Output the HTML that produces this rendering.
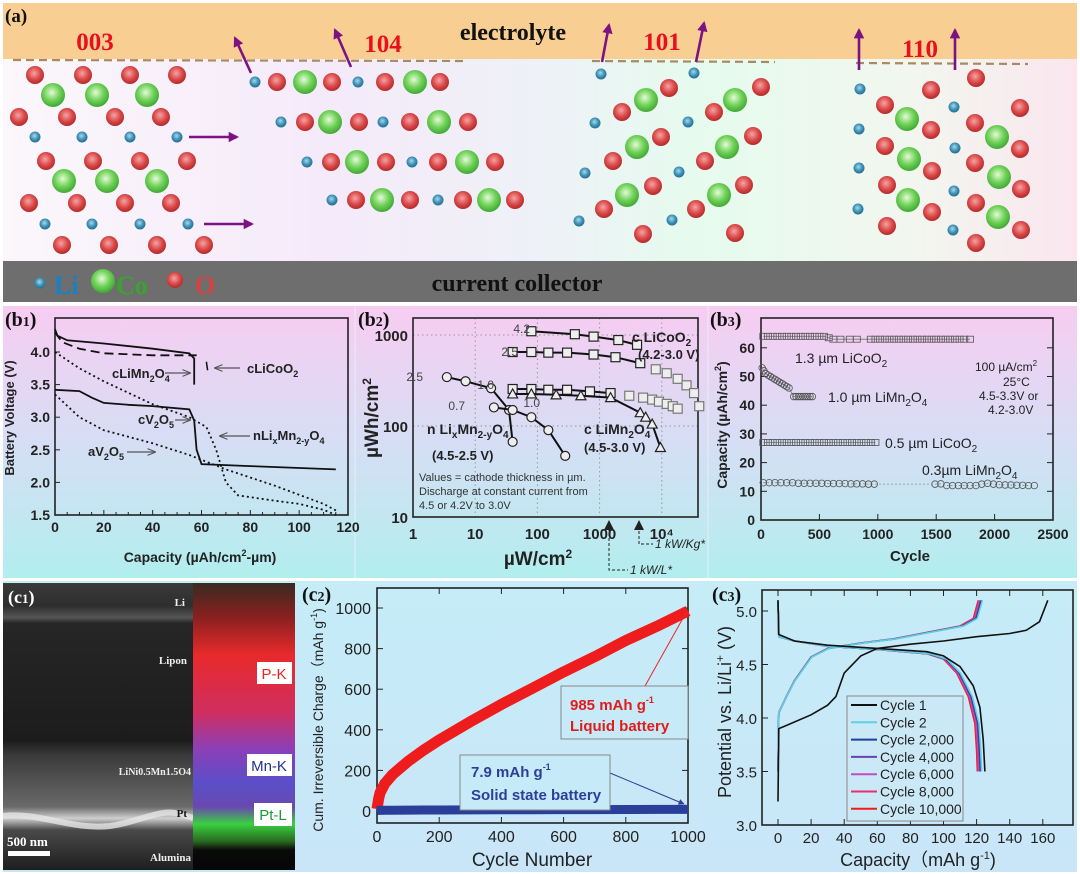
<!DOCTYPE html>
<html><head><meta charset="utf-8">
<style>
html,body{margin:0;padding:0;background:#fff;}
svg{display:block;}
text{font-family:"Liberation Sans",sans-serif;}
.serif{font-family:"Liberation Serif",serif;}
</style></head>
<body>
<svg id="fig" width="1080" height="874" viewBox="0 0 1080 874" xmlns="http://www.w3.org/2000/svg">
<defs>
<linearGradient id="gA" x1="0" x2="1" y1="0" y2="0">
<stop offset="0" stop-color="#fbf7fb"/><stop offset="0.3" stop-color="#f5eafa"/><stop offset="0.5" stop-color="#eef1f7"/><stop offset="0.65" stop-color="#e6fbee"/><stop offset="0.85" stop-color="#f2f6ef"/><stop offset="1" stop-color="#fbe6ef"/>
</linearGradient>
<linearGradient id="gB" x1="0" x2="0" y1="0" y2="1">
<stop offset="0" stop-color="#f8ccf2"/><stop offset="0.5" stop-color="#d6def5"/><stop offset="1" stop-color="#b2eeee"/>
</linearGradient>
<linearGradient id="gC" x1="0" x2="0" y1="0" y2="1">
<stop offset="0" stop-color="#c6ecf8"/><stop offset="1" stop-color="#c9e6f8"/>
</linearGradient>
<radialGradient id="rO" cx="0.45" cy="0.4" r="0.6"><stop offset="0" stop-color="#f6a3a3"/><stop offset="0.6" stop-color="#d94848"/><stop offset="1" stop-color="#b52a2a"/></radialGradient>
<radialGradient id="rCo" cx="0.45" cy="0.4" r="0.6"><stop offset="0" stop-color="#e3fbd6"/><stop offset="0.55" stop-color="#72d25a"/><stop offset="1" stop-color="#3fa934"/></radialGradient>
<radialGradient id="rLi" cx="0.45" cy="0.4" r="0.6"><stop offset="0" stop-color="#a9d8ea"/><stop offset="0.6" stop-color="#3b8fb4"/><stop offset="1" stop-color="#266f92"/></radialGradient>
<linearGradient id="gSEM" x1="0" x2="0" y1="0" y2="1">
<stop offset="0" stop-color="#3a3a3a"/><stop offset="0.08" stop-color="#2e2e2e"/><stop offset="0.12" stop-color="#555"/><stop offset="0.14" stop-color="#262626"/><stop offset="0.55" stop-color="#1c1c1c"/><stop offset="0.6" stop-color="#3a3a3a"/><stop offset="0.78" stop-color="#6a6a6a"/><stop offset="0.82" stop-color="#cfcfcf"/><stop offset="0.86" stop-color="#4a4a4a"/><stop offset="1" stop-color="#1e1e1e"/>
</linearGradient>
<linearGradient id="gEDS" x1="0" x2="0" y1="0" y2="1">
<stop offset="0" stop-color="#3a2a20"/><stop offset="0.12" stop-color="#8a2020"/><stop offset="0.25" stop-color="#e82a2a"/><stop offset="0.45" stop-color="#d02e60"/><stop offset="0.58" stop-color="#8b3fb8"/><stop offset="0.7" stop-color="#5a4fc8"/><stop offset="0.78" stop-color="#6a48b0"/><stop offset="0.84" stop-color="#3ad040"/><stop offset="0.9" stop-color="#2a6a20"/><stop offset="0.93" stop-color="#0a0a0a"/><stop offset="1" stop-color="#060606"/>
</linearGradient>
<marker id="arrP" viewBox="0 0 10 10" refX="8" refY="5" markerWidth="4" markerHeight="4" orient="auto"><path d="M0,0 L10,5 L0,10 z" fill="#7d1282"/></marker>
<marker id="arrW" viewBox="0 0 10 10" refX="9" refY="5" markerWidth="7" markerHeight="7" orient="auto"><path d="M0,1 L10,5 L0,9" fill="none" stroke="#555" stroke-width="1.2"/></marker>
<marker id="arrR" viewBox="0 0 10 10" refX="9" refY="5" markerWidth="6" markerHeight="6" orient="auto"><path d="M0,0 L10,5 L0,10 z" fill="#e22"/></marker>
<marker id="arrB" viewBox="0 0 10 10" refX="9" refY="5" markerWidth="6" markerHeight="6" orient="auto"><path d="M0,0 L10,5 L0,10 z" fill="#2a3f9a"/></marker>
</defs>

<rect x="0" y="0" width="1080" height="305" fill="#ffffff"/>
<rect x="3" y="58" width="1074" height="204" fill="url(#gA)"/>
<rect x="3" y="3" width="1074" height="56" fill="#f8ce92"/>
<rect x="3" y="261" width="1074" height="41" fill="#6e6e6e"/>
<g id="atoms"></g>
<text x="5" y="22" class="serif" font-size="19" font-weight="bold" fill="#111">(a)</text>
<text x="513" y="40" class="serif" font-size="24" font-weight="bold" fill="#111" text-anchor="middle">electrolyte</text>
<text x="95" y="50" class="serif" font-size="25" font-weight="bold" fill="#e8101c" text-anchor="middle">003</text>
<text x="383" y="52" class="serif" font-size="25" font-weight="bold" fill="#e8101c" text-anchor="middle">104</text>
<text x="662" y="50" class="serif" font-size="25" font-weight="bold" fill="#e8101c" text-anchor="middle">101</text>
<text x="920" y="57" class="serif" font-size="25" font-weight="bold" fill="#e8101c" text-anchor="middle">110</text>
<text x="517" y="291" class="serif" font-size="24" font-weight="bold" fill="#111" text-anchor="middle">current collector</text>
<circle cx="40" cy="283" r="5.5" fill="url(#rLi)"/>
<text x="54" y="294" class="serif" font-size="26" font-weight="bold" fill="#1a7fc4">Li</text>
<circle cx="103" cy="281" r="12" fill="url(#rCo)"/>
<text x="116" y="294" class="serif" font-size="26" font-weight="bold" fill="#3aa52c">Co</text>
<circle cx="175" cy="280" r="8" fill="url(#rO)"/>
<text x="195" y="294" class="serif" font-size="26" font-weight="bold" fill="#d94040">O</text>

<rect x="0" y="304" width="1080" height="275" fill="#fff"/>
<rect x="3" y="306" width="1074" height="272" fill="url(#gB)"/>
<line x1="355" y1="306" x2="355" y2="578" stroke="#e8eef8" stroke-width="1"/>
<line x1="708" y1="306" x2="708" y2="578" stroke="#e8eef8" stroke-width="1"/>
<g id="b1"></g>
<g id="b2"></g>
<g id="b3"></g>

<rect x="0" y="579" width="1080" height="295" fill="#fff"/>
<rect x="3" y="581" width="1074" height="291" fill="url(#gC)"/>
<g id="c1">
<rect x="3" y="583" width="190" height="287" fill="url(#gSEM)"/>
<path d="M3,816 C40,812 70,830 110,826 C140,822 160,808 180,814 L193,818" fill="none" stroke="#e6e6e6" stroke-width="6" opacity="0.8"/>
<rect x="193" y="583" width="102" height="287" fill="url(#gEDS)"/>
<text x="185" y="606" class="serif" font-size="11" font-weight="bold" fill="#eee" text-anchor="end">Li</text>
<text x="187" y="664" class="serif" font-size="11" font-weight="bold" fill="#eee" text-anchor="end">Lipon</text>
<text x="191" y="775" class="serif" font-size="10" font-weight="bold" fill="#eee" text-anchor="end">LiNi0.5Mn1.5O4</text>
<text x="187" y="817" class="serif" font-size="11" font-weight="bold" fill="#111" text-anchor="end">Pt</text>
<text x="191" y="861" class="serif" font-size="11" font-weight="bold" fill="#eee" text-anchor="end">Alumina</text>
<text x="7" y="846" class="serif" font-size="13" font-weight="bold" fill="#fff">500 nm</text>
<rect x="8" y="851" width="42" height="5" fill="#fff"/>
<rect x="257" y="662" width="35" height="22" fill="#fff"/>
<text x="274" y="679" font-size="15" fill="#e22" text-anchor="middle">P-K</text>
<rect x="247" y="754" width="45" height="22" fill="#fff"/>
<text x="269" y="771" font-size="15" fill="#23308f" text-anchor="middle">Mn-K</text>
<rect x="254" y="803" width="38" height="23" fill="#fff"/>
<text x="273" y="820" font-size="15" fill="#1a9a38" text-anchor="middle">Pt-L</text>
</g>
<g id="c2"></g>
<g id="c3"></g>

<script>
var NS = "http://www.w3.org/2000/svg";
function mk(tag, attrs, parent) {
  var e = document.createElementNS(NS, tag);
  for (var k in attrs) e.setAttribute(k, attrs[k]);
  (parent || document.getElementById('fig')).appendChild(e);
  return e;
}
function txt(s, attrs, parent) { var t = mk('text', attrs, parent); t.textContent = s; return t; }
/* parts: [text, fontSize|null, dy|null] */
function rich(parts, attrs, parent) {
  var t = mk('text', attrs, parent);
  parts.forEach(function(p){
    var ts = document.createElementNS(NS,'tspan');
    ts.textContent = p[0];
    if (p[1]) ts.setAttribute('font-size', p[1]);
    if (p[2]) ts.setAttribute('dy', p[2]);
    t.appendChild(ts);
  });
  return t;
}

/* ---------- Panel a atoms ---------- */
var atomsO = [[35,75],[83,75],[130,75],[177,75],[19,117],[67,117],[115,117],[161,117],[46,161],[93,161],[140,161],[187,161],[29,203],[77,203],[125,203],[171,203],[62,245],[109,245],[157,245],[204,245],
[277,82],[332,82],[385,82],[440,82],[305,122],[359,122],[410,122],[468,122],[331,162],[386,162],[438,162],[495,162],[356,200],[410,200],[463,200],[515,200],
[669,88],[622,112],[761,87],[714,112],[661,137],[613,161],[753,136],[705,161],[653,186],[604,209],[744,185],[696,209],[643,234],[735,233],
[976,78],[931,90],[885,105],[931,130],[885,146],[932,171],[887,185],[932,212],[887,226],[975,123],[975,163],[976,203],[976,243],[1020,108],[1020,149],[1021,189],[1021,230]];
var atomsCo = [[53,95],[97,95],[147,95],[64,181],[107,181],[157,181],
[305,82],[415,82],[330,122],[439,122],[357,162],[467,162],[382,200],[489,200],
[646,100],[735,100],[637,147],[727,147],[627,195],[719,195],
[907,119],[909,159],[908,200],[997,137],[999,177],[998,217]];
var atomsLi = [[35,137],[82,137],[130,137],[177,137],[45,224],[92,224],[140,224],[188,224],
[255,82],[358,82],[281,122],[383,122],[307,162],[412,162],[332,200],[438,200],
[601,74],[694,73],[595,123],[688,122],[585,173],[679,172],[579,221],[672,220],
[860,89],[859,129],[859,168],[858,209],[954,107],[955,148],[954,191],[953,230]];
var gA = document.getElementById('atoms');
atomsO.forEach(function(p){ var c = mk('circle',{cx:p[0],cy:p[1],r:9,fill:'url(#rO)'},gA);

 });
atomsCo.forEach(function(p){ var c = mk('circle',{cx:p[0],cy:p[1],r:12,fill:'url(#rCo)'},gA);

 });
atomsLi.forEach(function(p){ var c = mk('circle',{cx:p[0],cy:p[1],r:5.5,fill:'url(#rLi)'},gA);

 });
var dashes = [[13,60,468,61],[592,61,775,62],[856,63,1028,64]];
dashes.forEach(function(d){ var l = mk('line',{x1:d[0],y1:d[1],x2:d[2],y2:d[3],stroke:'#a88a62','stroke-width':2.2,'stroke-dasharray':'8,5'},gA);

 });
var arrowsA = [[189,137,237,137],[204,224,252,224],[251,73,235,38],[351,67,335,30],[602,62,609,25],[696,62,704,23],[859,70,859,30],[955,70,955,30]];
arrowsA.forEach(function(a){ var l = mk('line',{x1:a[0],y1:a[1],x2:a[2],y2:a[3],stroke:'#7d1282','stroke-width':2.6,'marker-end':'url(#arrP)'},gA);

 });

/* c1 panel label */
(function(){
  var pl = rich([['(c',null,null],['1','13',null],[')',null,null]],{x:8,y:603,'font-size':18,'font-weight':'bold',fill:'#fff','class':'serif'},document.getElementById('c1'));
  
  
})();

function frame(g, x0, y0, x1, y1) {
  var r = mk('rect',{x:x0,y:y0,width:x1-x0,height:y1-y0,fill:'none',stroke:'#222','stroke-width':1.6},g);
  
  
}
function pathD(pts, sx, sy){ return pts.map(function(p,i){return (i?'L':'M')+sx(p[0]).toFixed(1)+','+sy(p[1]).toFixed(1);}).join(' '); }
function zip(xs, ys){ return xs.map(function(x,i){return [x, ys[i]];}); }

/* ---------- b1 ---------- */
var b1XTicks = [0,20,40,60,80,100,120];
var b1YTicks = [1.5,2.0,2.5,3.0,3.5,4.0];
var b1LiMnCap = [0,1,5,20,40,55,57,57];
var b1LiMnV = [4.35,4.25,4.18,4.13,4.05,3.98,3.9,3.5];
var b1LiCoCap = [0,3,10,20,40,58];
var b1LiCoV = [4.3,4.15,4.05,3.98,3.95,3.95];
var b1cV2O5Cap = [0,10,15,20,30,40,55,57,58,60,80,115];
var b1cV2O5V = [3.42,3.4,3.3,3.22,3.19,3.17,3.12,2.95,2.5,2.28,2.25,2.2];
var b1nLiMnCap = [0,10,20,40,55,62,66,70,75,90,100,110,115];
var b1nLiMnV = [4.0,3.75,3.55,3.2,3.0,2.85,2.5,2.0,1.8,1.72,1.67,1.58,1.5];
var b1aV2O5Cap = [0,10,20,40,55,70,90,110,116];
var b1aV2O5V = [3.35,3.0,2.8,2.6,2.42,2.2,1.95,1.67,1.55];
(function(){
  var g = document.getElementById('b1');
  var X0=55,X1=348,Y0=318,Y1=515;
  var sx = function(v){return X0+(v-0)/120*(X1-X0);};
  var sy = function(v){return Y1-(v-1.5)/0.5*32.6;};
  frame(g,X0,Y0,X1,Y1);
  b1XTicks.forEach(function(v){
    var t = txt(v,{x:sx(v),y:532,'font-size':14,'font-weight':'bold','text-anchor':'middle',fill:'#222'},g);
    
    
  });
  for (var v=0; v<=120; v+=5){ var l = mk('line',{x1:sx(v),y1:Y1,x2:sx(v),y2:Y1-(v%20?3:5),stroke:'#222','stroke-width':1},g);
    
     }
  b1YTicks.forEach(function(v){
    var t = txt(v.toFixed(1),{x:X0-5,y:sy(v)+5,'font-size':14,'font-weight':'bold','text-anchor':'end',fill:'#222'},g);
    
    
    var l = mk('line',{x1:X0,y1:sy(v),x2:X0+5,y2:sy(v),stroke:'#222'},g);
    
    
  });
  var series = [[b1LiMnCap,b1LiMnV,'none','b1-curve-climn2o4'],[b1LiCoCap,b1LiCoV,'9,5','b1-curve-clicoo2'],[b1cV2O5Cap,b1cV2O5V,'none','b1-curve-cv2o5'],[b1nLiMnCap,b1nLiMnV,'2,3','b1-curve-nlimn2o4'],[b1aV2O5Cap,b1aV2O5V,'2,3','b1-curve-av2o5']];
  series.forEach(function(s){
    var p = mk('path',{d:pathD(zip(s[0],s[1]),sx,sy),fill:'none',stroke:'#111','stroke-width':1.8,'stroke-dasharray':s[2]},g);
    
    
  });
  var tk = mk('line',{x1:sx(62),y1:sy(3.85),x2:sx(62.5),y2:sy(3.72),stroke:'#111','stroke-width':1.5},g);
  
  
  var A = {'font-size':13,'font-weight':'bold',fill:'#222'};
  function at(x,y){ var o={}; for (var k in A) o[k]=A[k]; o.x=x; o.y=y; return o; }
  var l1 = rich([['cLiCoO'],['2','9','4']],at(247,373),g);
   
  var l2 = rich([['cLiMn'],['2','9','4'],['O',null,'-4'],['4','9','4']],at(112,378),g);
   
  var l3 = rich([['cV'],['2','9','4'],['O',null,'-4'],['5','9','4']],at(138,424),g);
   
  var l4 = rich([['nLi'],['x','9','4'],['Mn',null,'-4'],['2-y','9','4'],['O',null,'-4'],['4','9','4']],at(253,440),g);
   
  var l5 = rich([['aV'],['2','9','4'],['O',null,'-4'],['5','9','4']],at(88,456),g);
   
  var arr = [[240,368,215,368],[165,373,190,373],[175,420,190,420],[250,436,220,436],[127,452,155,452]];
  arr.forEach(function(a){ var l = mk('line',{x1:a[0],y1:a[1],x2:a[2],y2:a[3],stroke:'#555','stroke-width':1.2,'marker-end':'url(#arrW)'},g);
    
     });
  var yt = txt('Battery Voltage (V)',{x:0,y:0,'font-size':13,'font-weight':'bold',fill:'#222','text-anchor':'middle',transform:'translate(14,418) rotate(-90)'},g);
  
  
  var xt = rich([['Capacity (µAh/cm'],['2','9','-6'],['-µm)',null,'6']],{x:200,y:562,'font-size':14,'font-weight':'bold',fill:'#222','text-anchor':'middle'},g);
  
  
  var pl = rich([['(b'],['1','14'],[')']],{x:5,y:326,'font-size':20,'font-weight':'bold',fill:'#111','class':'serif'},g);
  
  
})();

/* ---------- b2 ---------- */
var b2XTickVals = [1,10,100,1000,10000];
var b2XTickLabels = ['1','10','100','1000','10⁴'];
var b2YTickVals = [10,100,1000];
var b2LiCo42X = [80,400,800,2000,4000];
var b2LiCo42Y = [1100,1020,960,880,780];
var b2LiCo25X = [40,80,150,300,800,1800,4500,8000,12000,18000,25000,33000,40000];
var b2LiCo25Y = [650,650,640,640,610,570,490,420,380,330,280,230,165];
var b2LiCo10X = [40,80,150,300,700,1500,3000,5000,7000,9000,12000,15000,18000];
var b2LiCo10Y = [255,255,250,250,240,230,215,205,195,185,175,165,155];
var b2LiMn10X = [40,80,200,500,1500,4500,5500,7000,9500];
var b2LiMn10Y = [225,225,220,215,205,140,125,105,58];
var b2nLiMn25X = [3.5,7,18,35,40];
var b2nLiMn25Y = [345,310,260,150,67];
var b2nLiMn07X = [20,40,80,150,280];
var b2nLiMn07Y = [160,150,125,90,47];
(function(){
  var g = document.getElementById('b2');
  var X0=413,X1=698,Y0=318,Y1=517;
  var sx = function(v){return X0+Math.log10(v)*62.2;};
  var sy = function(v){return Y1-(Math.log10(v)-1)*91;};
  [10,100,1000,10000].forEach(function(v){ var l = mk('line',{x1:sx(v),y1:Y0,x2:sx(v),y2:Y1,stroke:'#999','stroke-dasharray':'1.5,3'},g);
      });
  [100,1000].forEach(function(v){ var l = mk('line',{x1:X0,y1:sy(v),x2:X1,y2:sy(v),stroke:'#999','stroke-dasharray':'1.5,3'},g);
      });
  frame(g,X0,Y0,X1,Y1);
  b2XTickVals.forEach(function(v,i){
    var t = txt(b2XTickLabels[i],{x:sx(v),y:539,'font-size':15,'font-weight':'bold','text-anchor':'middle',fill:'#222'},g);
     
  });
  b2YTickVals.forEach(function(v){
    var t = txt(v,{x:X0-5,y:sy(v)+6,'font-size':15,'font-weight':'bold','text-anchor':'end',fill:'#222'},g);
     
  });
  function series(xs, ys, marker, name, lineN, gray){
    var pts = zip(xs, ys);
    var p = mk('path',{d:pathD(pts.slice(0,lineN||pts.length),sx,sy),fill:'none',stroke:'#111','stroke-width':2},g);
     
    pts.forEach(function(q, i){
      var cx=sx(q[0]), cy=sy(q[1]), m;
      var col = (gray && i>=lineN) ? '#777' : '#222';
      if (marker==='s') m = mk('rect',{x:cx-4.5,y:cy-4.5,width:9,height:9,fill:'#eee',stroke:col,'stroke-width':1.2},g);
      else if (marker==='t') m = mk('path',{d:'M'+cx+','+(cy-5)+' L'+(cx+5)+','+(cy+4)+' L'+(cx-5)+','+(cy+4)+' Z',fill:'#eee',stroke:col,'stroke-width':1.2},g);
      else m = mk('circle',{cx:cx,cy:cy,r:4.5,fill:'#eee',stroke:col,'stroke-width':1.2},g);
       
    });
  }
  series(b2LiCo42X,b2LiCo42Y,'s','b2-licoo2-4.2um');
  series(b2LiCo25X,b2LiCo25Y,'s','b2-licoo2-2.5um',7,true);
  series(b2LiCo10X,b2LiCo10Y,'s','b2-licoo2-1.0um',6,true);
  series(b2LiMn10X,b2LiMn10Y,'t','b2-limn2o4-1.0um');
  series(b2nLiMn25X,b2nLiMn25Y,'o','b2-nlimn-2.5um');
  series(b2nLiMn07X,b2nLiMn07Y,'o','b2-nlimn-0.7um');
  var labels = [['4.2',530,333],['2.5',518,356],['1.0',494,389],['2.5',423,381],['0.7',465,410],['1.0',540,407]];
  labels.forEach(function(l){ var t = txt(l[0],{x:l[1],y:l[2],'font-size':12,fill:'#444','text-anchor':'end'},g);
      });
  var B = function(x,y){ return {x:x,y:y,'font-size':14,'font-weight':'bold',fill:'#222'}; };
  var t1 = rich([['c LiCoO'],['2','10','4']],B(632,342),g);
   
  var t2 = txt('(4.2-3.0 V)',{x:638,y:359,'font-size':13,'font-weight':'bold',fill:'#222'},g);
   
  var t3 = rich([['c LiMn'],['2','10','4'],['O',null,'-4'],['4','10','4']],B(584,434),g);
   
  var t4 = txt('(4.5-3.0 V)',{x:584,y:452,'font-size':13,'font-weight':'bold',fill:'#222'},g);
   
  var t5 = rich([['n Li'],['x','10','4'],['Mn',null,'-4'],['2-y','10','4'],['O',null,'-4'],['4','10','4']],B(427,434),g);
   
  var t6 = txt('(4.5-2.5 V)',{x:432,y:460,'font-size':13,'font-weight':'bold',fill:'#222'},g);
   
  ['Values = cathode thickness in µm.','Discharge at constant current from','4.5 or 4.2V to 3.0V'].forEach(function(s,i){
    var t = txt(s,{x:419,y:481+i*14,'font-size':11,fill:'#333'},g);
     
  });
  var yt = rich([['µWh/cm'],['2','12','-7']],{x:0,y:0,'font-size':19,'font-weight':'bold',fill:'#222','text-anchor':'middle',transform:'translate(378,418) rotate(-90)'},g);
   
  var xt = rich([['µW/cm'],['2','12','-7']],{x:538,y:565,'font-size':19,'font-weight':'bold',fill:'#222','text-anchor':'middle'},g);
   
  var pth = mk('path',{d:'M609,528 L609,570 L628,570 M639,526 L639,544 L653,544',fill:'none',stroke:'#222','stroke-dasharray':'3,2'},g);
   
  var ar = mk('path',{d:'M604,530 L609,520 L614,530 Z M634,530 L639,520 L644,530 Z',fill:'#222'},g);
   
  var r1 = txt('1 kW/Kg*',{x:655,y:548,'font-size':12,'font-style':'italic',fill:'#222'},g);
   
  var r2 = txt('1 kW/L*',{x:630,y:574,'font-size':12,'font-style':'italic',fill:'#222'},g);
   
  var pl = rich([['(b'],['2','14'],[')']],{x:358,y:326,'font-size':20,'font-weight':'bold',fill:'#111','class':'serif'},g);
   
})();

/* ---------- b3 ---------- */
var b3XTicks = [0,500,1000,1500,2000,2500];
var b3YTicks = [0,10,20,30,40,50,60];
var b3LiCo13Cycle = [20,60,100,140,180,220,260,300,340,380,420,460,500,540,580,620,680,760,820,940,980,1020,1060,1100,1140,1180,1220,1260,1300,1340,1380,1420,1460,1500,1540,1580,1620,1660,1700,1740,1790];
var b3LiCo13Cap = [64,64,64,64,64,64,64,64,64,64,64,64,64,64,63.5,63,63,63,63,63,63,63,63,63,63,63,63,63,63,63,63,63,63,63,63,63,63,63,63,63,63];
var b3LiMn10Cycle = [10,25,40,60,80,100,120,140,160,180,200,220,240,280,300,320,340,360,380,400,420,440];
var b3LiMn10Cap = [53,52,51,50.5,50,49.5,49,48.5,48,47.5,47,46.5,46,43,43,43,43,43,43,43,43,43];
var b3LiCo05Cycle = [20,60,100,140,180,220,260,300,340,380,420,460,500,540,580,620,660,700,740,780,820,860,900,940,980];
var b3LiCo05Cap = [27,27,27,27,27,27,27,27,27,27,27,27,27,27,27,27,27,27,27,27,27,27,27,27,27];
var b3LiMn03Cycle = [20,70,120,170,220,270,320,370,420,470,520,570,620,670,720,770,820,870,920,970,1490,1540,1590,1640,1690,1740,1790,1840,1890,1940,1990,2040,2090,2140,2190,2240,2290,2340];
var b3LiMn03Cap = [13,13,13,13,13,13,12.8,12.8,12.8,12.8,12.8,12.7,12.7,12.7,12.7,12.6,12.6,12.6,12.5,12.5,12.5,12.6,12,12,12,12,12,12,12.5,12.8,12.5,12.3,12.2,12.2,12.1,12.1,12,12];
(function(){
  var g = document.getElementById('b3');
  var X0=761,X1=1053,Y0=318,Y1=520;
  var sx = function(v){return X0+v/2500*(X1-X0);};
  var sy = function(v){return Y1-v/10*28.7;};
  frame(g,X0,Y0,X1,Y1);
  b3XTicks.forEach(function(v){
    var t = txt(v,{x:sx(v),y:539,'font-size':14,'font-weight':'bold','text-anchor':'middle',fill:'#222'},g);
     
    var l = mk('line',{x1:sx(v),y1:Y1,x2:sx(v),y2:Y1-6,stroke:'#222'},g);
     
  });
  b3YTicks.forEach(function(v){
    var t = txt(v,{x:X0-6,y:sy(v)+5,'font-size':14,'font-weight':'bold','text-anchor':'end',fill:'#222'},g);
     
    var l = mk('line',{x1:X0,y1:sy(v),x2:X0+6,y2:sy(v),stroke:'#222'},g);
     
    var l2 = mk('line',{x1:X1,y1:sy(v),x2:X1-6,y2:sy(v),stroke:'#222'},g);
     
  });
  function ser(xs, ys, shape, name, dotted){
    var pts = zip(xs,ys);
    var p = mk('path',{d:pathD(pts,sx,sy),fill:'none',stroke:'#777','stroke-width':0.8,'stroke-dasharray':dotted?'1.5,2.5':'none'},g);
     
    pts.forEach(function(q){
      var cx=sx(q[0]), cy=sy(q[1]), m;
      if (shape==='s') m = mk('rect',{x:cx-3.5,y:cy-3,width:7,height:6,fill:'none',stroke:'#555','stroke-width':0.8},g);
      else m = mk('circle',{cx:cx,cy:cy,r:3.3,fill:'none',stroke:'#555','stroke-width':0.8},g);
       
    });
  }
  ser(b3LiCo13Cycle,b3LiCo13Cap,'s','b3-licoo2-1.3um');
  ser(b3LiMn10Cycle,b3LiMn10Cap,'o','b3-limn2o4-1.0um');
  ser(b3LiCo05Cycle,b3LiCo05Cap,'s','b3-licoo2-0.5um');
  ser(b3LiMn03Cycle,b3LiMn03Cap,'o','b3-limn2o4-0.3um',true);
  function lab(parts,x,y,name,size){ var t = rich(parts,{x:x,y:y,'font-size':size||14,fill:'#222'},g);
      }
  lab([['1.3 µm LiCoO'],['2','10','4']],795,363,'b3-label-licoo2-1.3um');
  lab([['1.0 µm LiMn'],['2','10','4'],['O',null,'-4'],['4','10','4']],828,402,'b3-label-limn2o4-1.0um');
  lab([['0.5 µm LiCoO'],['2','10','4']],885,448,'b3-label-licoo2-0.5um');
  lab([['0.3µm LiMn'],['2','10','4'],['O',null,'-4'],['4','10','4']],922,475,'b3-label-limn2o4-0.3um');
  lab([['100 µA/cm'],['2','8','-5']],975,371,'b3-cond-current',12);
  lab([['25°C']],1003,386,'b3-cond-temp',12);
  lab([['4.5-3.3V or']],979,400,'b3-cond-voltage1',12);
  lab([['4.2-3.0V']],988,414,'b3-cond-voltage2',12);
  var yt = rich([['Capacity  (µAh/cm'],['2','9','-6'],[')',null,'6']],{x:0,y:0,'font-size':14,'font-weight':'bold',fill:'#222','text-anchor':'middle',transform:'translate(727,425) rotate(-90)'},g);
   
  var xt = txt('Cycle',{x:910,y:561,'font-size':15,'font-weight':'bold',fill:'#222','text-anchor':'middle'},g);
   
  var pl = rich([['(b'],['3','14'],[')']],{x:710,y:326,'font-size':20,'font-weight':'bold',fill:'#111','class':'serif'},g);
   
})();

/* ---------- c2 ---------- */
var c2XTicks = [0,200,400,600,800,1000];
var c2YTicks = [0,200,400,600,800,1000];
var c2Cycles = [0,5,10,25,50,100,150,200,300,400,500,600,700,800,900,1000];
var c2Liquid = [10,60,90,135,180,245,300,350,440,525,605,685,760,840,910,985];
var c2Solid = [2,3,3,4,4,4.5,5,5,5.5,6,6.5,7,7,7.5,7.8,7.9];
(function(){
  var g = document.getElementById('c2');
  var X0=377,X1=688,Y0=588,Y1=823;
  var sx = function(v){return X0+v/1000*(X1-X0);};
  var sy = function(v){return 811-v/200*40.6;};
  frame(g,X0,Y0,X1,Y1);
  c2XTicks.forEach(function(v){
    var t = txt(v,{x:sx(v),y:842,'font-size':16,'text-anchor':'middle',fill:'#222'},g);
     
    var l = mk('line',{x1:sx(v),y1:Y1,x2:sx(v),y2:Y1-6,stroke:'#222'},g);
     
    var l2 = mk('line',{x1:sx(v),y1:Y0,x2:sx(v),y2:Y0+6,stroke:'#222'},g);
     
  });
  c2YTicks.forEach(function(v){
    var t = txt(v,{x:X0-6,y:sy(v)+6,'font-size':16,'text-anchor':'end',fill:'#222'},g);
     
    var l = mk('line',{x1:X0,y1:sy(v),x2:X0+6,y2:sy(v),stroke:'#222'},g);
     
    var l2 = mk('line',{x1:X1,y1:sy(v),x2:X1-6,y2:sy(v),stroke:'#222'},g);
     
  });
  var pr = mk('path',{d:pathD(zip(c2Cycles,c2Liquid),sx,sy),fill:'none',stroke:'#ee1c1c','stroke-width':11,'stroke-linejoin':'round'},g);
   
  var pb = mk('path',{d:pathD(zip(c2Cycles,c2Solid),sx,sy),fill:'none',stroke:'#2a3f9a','stroke-width':9},g);
   
  var a1 = mk('line',{x1:645,y1:686,x2:687,y2:611,stroke:'#e22','stroke-width':1,'marker-end':'url(#arrR)'},g);
   
  var a2 = mk('line',{x1:610,y1:773,x2:684,y2:804,stroke:'#2a3f9a','stroke-width':1,'marker-end':'url(#arrB)'},g);
   
  var r1 = mk('rect',{x:561,y:686,width:127,height:53,fill:'#c6eaf7',stroke:'#888','stroke-width':1},g);
   
  var l1 = rich([['985 mAh g'],['-1','9','-7']],{x:570,y:710,'font-size':15,'font-weight':'bold',fill:'#e21b1b'},g);
   
  var l2 = txt('Liquid battery',{x:570,y:731,'font-size':15,'font-weight':'bold',fill:'#e21b1b'},g);
   
  var r2 = mk('rect',{x:460,y:755,width:150,height:55,fill:'#c6eaf7',stroke:'#888','stroke-width':1},g);
   
  var l3 = rich([['7.9 mAh g'],['-1','9','-7']],{x:471,y:777,'font-size':15,'font-weight':'bold',fill:'#2a3f9a'},g);
   
  var l4 = txt('Solid state battery',{x:471,y:800,'font-size':15,'font-weight':'bold',fill:'#2a3f9a'},g);
   
  var yt = rich([['Cum. Irreversible Charge（mAh g'],['-1','9','-6'],[')',null,'6']],{x:0,y:0,'font-size':14,fill:'#222','text-anchor':'middle',transform:'translate(323,720) rotate(-90)'},g);
   
  var xt = txt('Cycle Number',{x:532,y:866,'font-size':19,fill:'#222','text-anchor':'middle'},g);
   
  var pl = rich([['(c'],['2','14'],[')']],{x:302,y:601,'font-size':20,'font-weight':'bold',fill:'#111','class':'serif'},g);
   
})();

/* ---------- c3 ---------- */
var c3XTicks = [0,20,40,60,80,100,120,140,160];
var c3YTicks = [3.0,3.5,4.0,4.5,5.0];
var c3Cycle1ChCap = [0,0.5,5,20,30,35,40,50,60,80,100,120,140,150,158,163];
var c3Cycle1ChV = [3.22,3.9,3.93,4.03,4.12,4.2,4.42,4.58,4.65,4.69,4.72,4.76,4.79,4.82,4.9,5.1];
var c3Cycle1DisCap = [0,0.5,10,30,60,90,100,110,118,122,124,125];
var c3Cycle1DisV = [5.1,4.78,4.72,4.68,4.65,4.62,4.58,4.48,4.3,4.1,3.8,3.5];
var c3LaterChCap = [0,0.5,5,10,20,30,50,70,90,110,118,121];
var c3LaterChV = [3.5,4.05,4.2,4.35,4.57,4.65,4.7,4.74,4.8,4.86,4.93,5.1];
var c3LaterDisCap = [0,0.5,10,30,60,90,100,108,115,119,120,120.5];
var c3LaterDisV = [5.1,4.76,4.72,4.67,4.64,4.6,4.55,4.42,4.2,3.95,3.7,3.5];
var c3CycleNames = ['Cycle 1','Cycle 2','Cycle 2,000','Cycle 4,000','Cycle 6,000','Cycle 8,000','Cycle 10,000'];
var c3EndCapacity = [125,123,122.5,122,121.5,121,120.5];
var c3Colors = ['#111111','#5fd0e0','#1f3f9c','#6a3fb0','#c050c0','#e8306a','#ee1c1c'];
(function(){
  var g = document.getElementById('c3');
  var X0=762,X1=1073,Y0=590,Y1=825;
  var sx = function(v){return 778+v/20*33.1;};
  var sy = function(v){return 825-(v-3)/0.5*53.5;};
  frame(g,X0,Y0,X1,Y1);
  c3XTicks.forEach(function(v){
    var t = txt(v,{x:sx(v),y:843,'font-size':15,'text-anchor':'middle',fill:'#222'},g);
     
    var l = mk('line',{x1:sx(v),y1:Y1,x2:sx(v),y2:Y1-6,stroke:'#222'},g);
     
    var l2 = mk('line',{x1:sx(v),y1:Y0,x2:sx(v),y2:Y0+6,stroke:'#222'},g);
     
  });
  c3YTicks.forEach(function(v){
    var t = txt(v.toFixed(1),{x:X0-5,y:sy(v)+6,'font-size':15,'text-anchor':'end',fill:'#222'},g);
     
    var l = mk('line',{x1:X0,y1:sy(v),x2:X0+6,y2:sy(v),stroke:'#222'},g);
     
  });
  for (var i=c3CycleNames.length-1;i>=0;i--){
    var chC = i===0 ? c3Cycle1ChCap : c3LaterChCap, chV = i===0 ? c3Cycle1ChV : c3LaterChV;
    var dC = i===0 ? c3Cycle1DisCap : c3LaterDisCap, dV = i===0 ? c3Cycle1DisV : c3LaterDisV;
    var ref = i===0 ? 125 : 120.5;
    var k = c3EndCapacity[i]/ref;
    var ch = zip(chC.map(function(c){return i===0?c:c*k;}), chV);
    var ds = zip(dC.map(function(c){return c*k;}), dV);
    var p1 = mk('path',{d:pathD(ch,sx,sy),fill:'none',stroke:c3Colors[i],'stroke-width':1.6},g);
    
    
    var p2 = mk('path',{d:pathD(ds,sx,sy),fill:'none',stroke:c3Colors[i],'stroke-width':1.6},g);
    
    
  }
  var lb = mk('rect',{x:847,y:696,width:116,height:125,fill:'#cbe8f7',stroke:'#888','stroke-width':1},g);
   
  c3CycleNames.forEach(function(n,i){
    var y = 710+i*17.3;
    var l = mk('line',{x1:851,y1:y-5,x2:877,y2:y-5,stroke:c3Colors[i],'stroke-width':2},g);
     
    var t = txt(n,{x:880,y:y,'font-size':14,fill:'#222'},g);
     
  });
  var yt = rich([['Potential vs. Li/Li'],['+','12','-7'],[' (V)',null,'7']],{x:0,y:0,'font-size':18,fill:'#222','text-anchor':'middle',transform:'translate(731,712) rotate(-90)'},g);
   
  var xt = rich([['Capacity（mAh g'],['-1','11','-7'],[')',null,'7']],{x:918,y:866,'font-size':18,fill:'#222','text-anchor':'middle'},g);
   
  var pl = rich([['(c'],['3','14'],[')']],{x:712,y:601,'font-size':20,'font-weight':'bold',fill:'#111','class':'serif'},g);
   
})();
</script>
</body></html>
